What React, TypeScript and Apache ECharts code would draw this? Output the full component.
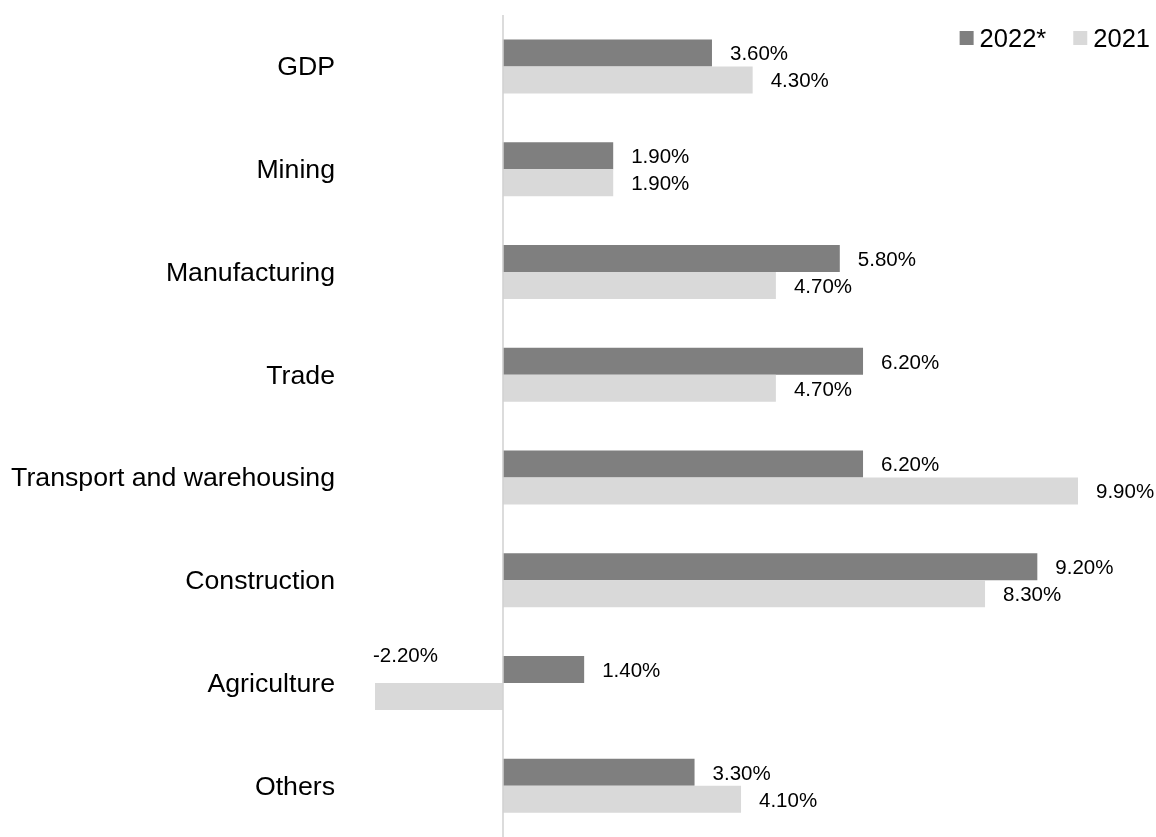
import React, { useEffect, useRef } from "react";
import * as echarts from "echarts";

const categories = [
  "GDP",
  "Mining",
  "Manufacturing",
  "Trade",
  "Transport and warehousing",
  "Construction",
  "Agriculture",
  "Others",
];
const values2022 = [3.6, 1.9, 5.8, 6.2, 6.2, 9.2, 1.4, 3.3];
const values2021 = [4.3, 1.9, 4.7, 4.7, 9.9, 8.3, -2.2, 4.1];
const seriesNames = ["2022*", "2021"];

const FONT = "'Liberation Sans', Arial, sans-serif";

export default function App() {
  const ref = useRef<HTMLDivElement>(null);
  useEffect(() => {
    if (!ref.current) return;
    const chart = echarts.init(ref.current, undefined, { renderer: "svg" });
    const fmt = (p: any) => Number(p.value).toFixed(2) + "%";
    const labelBase = {
      show: true,
      position: "right",
      distance: 18,
      fontSize: 20.5,
      fontFamily: FONT,
      color: "#000",
      formatter: fmt,
    };
    const data2021 = values2021.map((v) =>
      v < 0
        ? {
            value: v,
            label: {
              position: [-2, -39],
              align: "left",
              verticalAlign: "top",
            },
          }
        : v
    );
    chart.setOption({
      animation: false,
      textStyle: { fontFamily: FONT },
      legend: {
        data: seriesNames,
        right: 1,
        top: 20,
        itemWidth: 14,
        itemHeight: 14,
        itemGap: 27,
        icon: "rect",
        textStyle: { fontSize: 25.5, color: "#000", fontFamily: FONT, padding: [0, 0, 0, 1] },
      },
      grid: { left: 375, right: 78, top: 15, height: 827, containLabel: false },
      xAxis: {
        type: "value",
        min: -2.2,
        max: 9.9,
        show: false,
        splitLine: { show: false },
      },
      yAxis: {
        type: "category",
        data: categories,
        inverse: true,
        axisLine: { show: false, onZero: false },
        axisTick: { show: false },
        axisLabel: {
          margin: 40,
          fontSize: 26.7,
          color: "#000",
          fontFamily: FONT,
          padding: [2, 0, 0, 0],
        },
      },
      series: [
        {
          name: seriesNames[0],
          type: "bar",
          data: values2022,
          barWidth: 27,
          barGap: "0%",
          itemStyle: { color: "#7f7f7f" },
          label: labelBase,
          markLine: {
            silent: true,
            symbol: "none",
            label: { show: false },
            lineStyle: { color: "#d0d0d0", width: 1.5, type: "solid" },
            data: [{ xAxis: 0 }],
          },
        },
        {
          name: seriesNames[1],
          type: "bar",
          data: data2021,
          barWidth: 27,
          barGap: "0%",
          itemStyle: { color: "#d9d9d9" },
          label: labelBase,
        },
      ],
    });
    return () => chart.dispose();
  }, []);
  return (
    <div
      ref={ref}
      style={{ position: "fixed", left: 0, top: 0, width: 1156, height: 837 }}
    />
  );
}
